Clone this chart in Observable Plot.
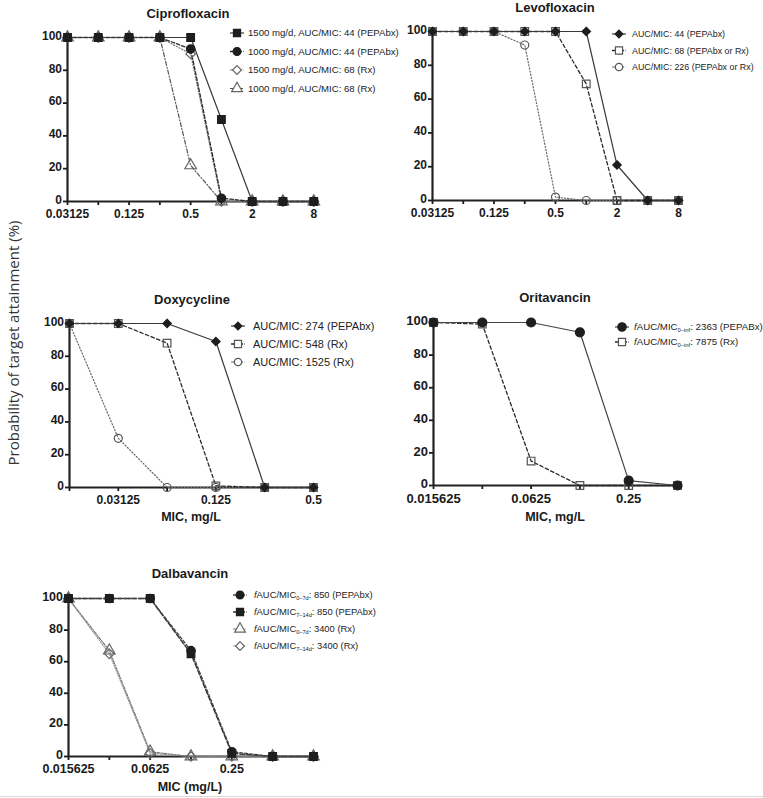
<!DOCTYPE html>
<html><head><meta charset="utf-8">
<script src="https://cdn.jsdelivr.net/npm/d3@7"></script>
<script src="https://cdn.jsdelivr.net/npm/@observablehq/plot@0.6"></script>
<style>
body{margin:0;background:#fff;}
#wrap{position:relative;width:763px;height:798px;overflow:hidden;background:#fff;}
.panel{position:absolute;}
.panel svg{overflow:visible;background:transparent;}
#overlay{position:absolute;left:0;top:0;pointer-events:none;}
</style></head><body><div id="wrap"></div>
<script>
// ---------------- DATA ----------------
const micA = [0.03125, 0.0625, 0.125, 0.25, 0.5, 1, 2, 4, 8];
const micB = [0.015625, 0.03125, 0.0625, 0.125, 0.25, 0.5];
const micC = [0.015625, 0.03125, 0.0625, 0.125, 0.25, 0.5, 1];
const yTicks = [0, 20, 40, 60, 80, 100];

// Ciprofloxacin
const cipro1500_44 = [100, 100, 100, 100, 100, 50, 0, 0, 0];
const cipro1000_44 = [100, 100, 100, 100, 93, 2, 0, 0, 0];
const cipro1500_68 = [100, 100, 100, 100, 90, 0, 0, 0, 0];
const cipro1000_68 = [100, 100, 100, 100, 22, 0, 0, 0, 0];
const ciproLabels = ["1500 mg/d, AUC/MIC: 44 (PEPAbx)", "1000 mg/d, AUC/MIC: 44 (PEPAbx)", "1500 mg/d, AUC/MIC: 68 (Rx)", "1000 mg/d, AUC/MIC: 68 (Rx)"];
const ciproTickLabels = [0.03125, 0.125, 0.5, 2, 8];

// Levofloxacin
const levo44 = [100, 100, 100, 100, 100, 100, 21, 0, 0];
const levo68 = [100, 100, 100, 100, 100, 69, 0, 0, 0];
const levo226 = [100, 100, 100, 92, 2, 0, 0, 0, 0];
const levoLabels = ["AUC/MIC: 44 (PEPAbx)", "AUC/MIC: 68 (PEPAbx or Rx)", "AUC/MIC: 226 (PEPAbx or Rx)"];
const levoTickLabels = [0.03125, 0.125, 0.5, 2, 8];

// Doxycycline
const doxy274 = [100, 100, 100, 89, 0, 0];
const doxy548 = [100, 100, 88, 1, 0, 0];
const doxy1525 = [100, 30, 0, 0, 0, 0];
const doxyLabels = ["AUC/MIC: 274 (PEPAbx)", "AUC/MIC: 548 (Rx)", "AUC/MIC: 1525 (Rx)"];
const doxyTickLabels = [0.03125, 0.125, 0.5];

// Oritavancin
const orita2363 = [100, 100, 100, 94, 3, 0];
const orita7875 = [100, 99, 15, 0, 0, 0];
const oritaLabels = ["*f*AUC/MIC_{0–inf}: 2363 (PEPABx)", "*f*AUC/MIC_{0–inf}: 7875 (Rx)"];
const oritaTickLabels = [0.015625, 0.0625, 0.25];

// Dalbavancin
const dalba850_0_7 = [100, 100, 100, 67, 3, 0, 0];
const dalba850_7_14 = [100, 100, 100, 65, 2, 0, 0];
const dalba3400_0_7 = [100, 67, 3, 0, 0, 0, 0];
const dalba3400_7_14 = [100, 65, 2, 0, 0, 0, 0];
const dalbaLabels = ["*f*AUC/MIC_{0–7d}: 850 (PEPAbx)", "*f*AUC/MIC_{7–14d}: 850 (PEPAbx)", "*f*AUC/MIC_{0–7d}: 3400 (Rx)", "*f*AUC/MIC_{7–14d}: 3400 (Rx)"];
const dalbaTickLabels = [0.015625, 0.0625, 0.25];

const yTitle = "Probability of target attainment (%)";

// ---------------- STYLES ----------------
const FONT = "'Liberation Sans', Arial, Helvetica, sans-serif";
const S = {
  solidSq:  {line:"#3a3a3a", dash:null,      lw:1.2, sym:"square",   fill:"#1e1e1e", stroke:"#1e1e1e", r:4.3},
  dashCirc: {line:"#2a2a2a", dash:"3.5,2",   lw:1.3, sym:"circle",   fill:"#1e1e1e", stroke:"#1e1e1e", r:4.2},
  dotDiam:  {line:"#777",    dash:"1.2,1.8", lw:1.2, sym:"diamond2", fill:"none",    stroke:"#666",    r:4.3},
  dashDotTri:{line:"#555",   dash:"4,2,1,2", lw:1.2, sym:"triangle", fill:"none",    stroke:"#666",    r:4.3},
  solidDiam:{line:"#3a3a3a", dash:null,      lw:1.2, sym:"diamond2", fill:"#1e1e1e", stroke:"#1e1e1e", r:3.8},
  dashSqO:  {line:"#2a2a2a", dash:"3.5,2.5", lw:1.3, sym:"square",   fill:"none",    stroke:"#555",    r:4.3},
  dotCircO: {line:"#666",    dash:"1.2,2",   lw:1.2, sym:"circle",   fill:"none",    stroke:"#555",    r:4.0},
  solidCirc:{line:"#444",    dash:null,      lw:1.2, sym:"circle",   fill:"#1e1e1e", stroke:"#1e1e1e", r:4.5},
  dashCircD:{line:"#444",    dash:"3,2",     lw:1.3, sym:"circle",   fill:"#1e1e1e", stroke:"#1e1e1e", r:4.2},
  dashSqD:  {line:"#333",    dash:"5,2",     lw:1.4, sym:"square",   fill:"#1e1e1e", stroke:"#1e1e1e", r:4.3},
  dashDotTriL:{line:"#777",  dash:"3,1.5,1,1.5", lw:1.2, sym:"triangle", fill:"none", stroke:"#666", r:4.3},
  dotDiamL: {line:"#999",    dash:"1.2,1.5", lw:1.2, sym:"diamond2", fill:"none",    stroke:"#666",    r:4.3}
};

const panels = [
  {title:"Ciprofloxacin", mic:micA, labeled:ciproTickLabels, x0:66.7, x1:313, yTop:37, yBot:201, tickFs:12,
   titlePos:[188,13],
   series:[{v:cipro1500_44,s:S.solidSq},{v:cipro1000_44,s:S.dashCirc},{v:cipro1500_68,s:S.dotDiam},{v:cipro1000_68,s:S.dashDotTri}],
   legend:{sx:237, tx:248, ys:[33,51.5,70,88.5], fs:9.6, labels:ciproLabels}},
  {title:"Levofloxacin", mic:micA, labeled:levoTickLabels, x0:432, x1:678, yTop:31, yBot:200, tickFs:12,
   titlePos:[555,7],
   series:[{v:levo44,s:S.solidDiam},{v:levo68,s:S.dashSqO},{v:levo226,s:S.dotCircO}],
   legend:{sx:619, tx:632, ys:[34,50.5,67], fs:8.9, labels:levoLabels}},
  {title:"Doxycycline", mic:micB, labeled:doxyTickLabels, x0:69, x1:313, yTop:323, yBot:487, tickFs:12,
   titlePos:[192,299], xTitle:"MIC, mg/L", xTitlePos:[191,517],
   series:[{v:doxy274,s:S.solidDiam},{v:doxy548,s:S.dashSqO},{v:doxy1525,s:S.dotCircO}],
   legend:{sx:238, tx:253, ys:[326,344,362], fs:11, labels:doxyLabels}},
  {title:"Oritavancin", mic:micB, labeled:oritaTickLabels, x0:433, x1:677, yTop:322, yBot:485, tickFs:13,
   titlePos:[555,297], xTitle:"MIC, mg/L", xTitlePos:[555,517],
   series:[{v:orita2363,s:S.solidCirc},{v:orita7875,s:S.dashSqO}],
   legend:{sx:622, tx:634, ys:[327,342], fs:9.7, labels:oritaLabels}},
  {title:"Dalbavancin", mic:micC, labeled:dalbaTickLabels, x0:68, x1:313, yTop:598, yBot:756, tickFs:12.5,
   titlePos:[190,573], xTitle:"MIC (mg/L)", xTitlePos:[190,787],
   series:[{v:dalba850_0_7,s:S.dashCircD},{v:dalba850_7_14,s:S.dashSqD},{v:dalba3400_0_7,s:S.dashDotTriL},{v:dalba3400_7_14,s:S.dotDiamL}],
   legend:{sx:240, tx:254, ys:[595,612,629,646], fs:9.4, labels:dalbaLabels}}
];

const wrap = document.getElementById("wrap");
const mL = 40, mR = 16, mT = 12, mB = 30;

for (const p of panels) {
  const w = (p.x1 - p.x0) + mL + mR;
  const h = (p.yBot - p.yTop) + mT + mB;
  const xmin = p.mic[0], xmax = p.mic[p.mic.length - 1];
  const marks = [
    // y tick marks only
    Plot.axisY(yTicks, {tickSize:4, strokeWidth:1.8, label:null, tickFormat:() => ""}),
    // y tick labels only, nudged up slightly
    Plot.axisY(yTicks, {tickSize:0, tickPadding:5.5, dy:-1.5, label:null, tickFormat:d => String(d)}),
    Plot.axisX(p.mic, {tickSize:4, tickPadding:4, strokeWidth:1.8, label:null,
      tickFormat:d => p.labeled.includes(d) ? String(d) : ""}),
    Plot.ruleY([0], {strokeWidth:2.2, stroke:"#222"}),
    Plot.ruleX([xmin], {y1:0, y2:100, strokeWidth:2.2, stroke:"#222"})
  ];
  const rev = [...p.series].reverse();
  for (const sr of rev) {
    const d = p.mic.map((m, j) => ({mic:m, pta:sr.v[j]}));
    marks.push(Plot.line(d, {x:"mic", y:"pta", stroke:sr.s.line, strokeWidth:sr.s.lw, strokeDasharray:sr.s.dash ?? undefined}));
  }
  for (const sr of rev) {
    const d = p.mic.map((m, j) => ({mic:m, pta:sr.v[j]}));
    marks.push(Plot.dot(d, {x:"mic", y:"pta", symbol:sr.s.sym, r:sr.s.r, fill:sr.s.fill, stroke:sr.s.stroke, strokeWidth:1.2}));
  }
  const chart = Plot.plot({
    width:w, height:h, marginLeft:mL, marginRight:mR, marginTop:mT, marginBottom:mB,
    x:{type:"log", base:2, domain:[xmin, xmax]},
    y:{domain:[0, 100]},
    style:{fontFamily:FONT, fontSize:p.tickFs + "px", fontWeight:"bold", color:"#1a1a1a", background:"transparent", overflow:"visible"},
    marks
  });
  const div = document.createElement("div");
  div.className = "panel";
  div.style.left = (p.x0 - mL) + "px";
  div.style.top = (p.yTop - mT) + "px";
  div.appendChild(chart);
  wrap.appendChild(div);
}

// ---------------- OVERLAY: titles, legends, axis titles ----------------
const svg = d3.select(wrap).append("svg").attr("id", "overlay")
  .attr("width", 763).attr("height", 798)
  .style("font-family", FONT);

const symMap = {square:d3.symbolSquare, circle:d3.symbolCircle, diamond2:d3.symbolDiamond2, triangle:d3.symbolTriangle};

function addRich(textSel, str) {
  const re = /(\*[^*]+\*)|(_\{[^}]+\})|([^*_]+)/g;
  let m, shifted = false;
  while ((m = re.exec(str))) {
    if (m[1]) {
      textSel.append("tspan").attr("font-style", "italic").text(m[1].slice(1, -1));
    } else if (m[2]) {
      textSel.append("tspan").attr("font-size", "60%").attr("dy", "0.35em").text(m[2].slice(2, -1));
      shifted = true;
    } else {
      const t = textSel.append("tspan").text(m[3]);
      if (shifted) { t.attr("dy", "-0.21em"); shifted = false; }
    }
  }
}

for (const p of panels) {
  svg.append("text").attr("x", p.titlePos[0]).attr("y", p.titlePos[1]).attr("dy", "0.35em")
    .attr("text-anchor", "middle").attr("font-weight", "bold").attr("font-size", 13).attr("fill", "#1a1a1a")
    .text(p.title);
  if (p.xTitle) {
    svg.append("text").attr("x", p.xTitlePos[0]).attr("y", p.xTitlePos[1]).attr("dy", "0.35em")
      .attr("text-anchor", "middle").attr("font-weight", "bold").attr("font-size", 12.5).attr("fill", "#1a1a1a")
      .text(p.xTitle);
  }
  const L = p.legend;
  p.series.forEach((sr, i) => {
    const y = L.ys[i];
    const g = svg.append("g");
    g.append("line").attr("x1", L.sx - 7).attr("x2", L.sx + 7).attr("y1", y).attr("y2", y)
      .attr("stroke", sr.s.line).attr("stroke-width", sr.s.lw)
      .attr("stroke-dasharray", sr.s.dash ? (sr.s.dash.split(",").length > 2 ? sr.s.dash : "3,1.5") : null);
    g.append("path").attr("transform", `translate(${L.sx},${y})`)
      .attr("d", d3.symbol(symMap[sr.s.sym], Math.PI * (sr.s.r - 0.3) ** 2)())
      .attr("fill", sr.s.fill === "none" ? "white" : sr.s.fill).attr("stroke", sr.s.stroke).attr("stroke-width", 1.2);
    const t = g.append("text").attr("x", L.tx).attr("y", y).attr("dy", "0.35em")
      .attr("font-size", L.fs).attr("fill", "#222");
    addRich(t, L.labels[i]);
  });
}

svg.append("text").attr("transform", "translate(14,343) rotate(-90)").attr("dy", "0.35em")
  .attr("text-anchor", "middle").attr("font-family", "'Open Sans', 'Noto Sans', sans-serif")
  .attr("font-size", 15).attr("fill", "#333").text(yTitle);

svg.append("line").attr("x1", 0).attr("x2", 763).attr("y1", 796.5).attr("y2", 796.5)
  .attr("stroke", "#d8d8d8").attr("stroke-width", 1);
</script></body></html>
